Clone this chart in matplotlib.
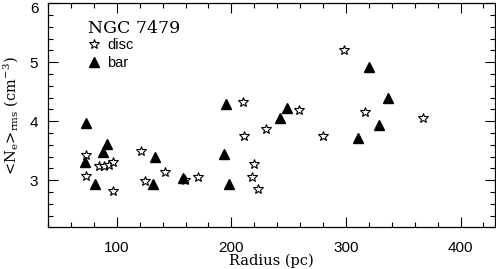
import matplotlib
matplotlib.use('Agg')
import matplotlib.pyplot as plt
import matplotlib.transforms as mtransforms
from matplotlib.ticker import MultipleLocator

# NGC 7479 rms electron density vs radius
disc_r = [72.9, 84.8, 89.1, 93.2, 97.0, 72.9, 97.0, 121.2, 142.4, 124.6,
          209.9, 230.2, 211.0, 219.8, 159.8, 171.2, 218.3, 223.5,
          298.0, 259.3, 316.6, 280.2, 367.5]
disc_ne = [3.42, 3.24, 3.24, 3.25, 3.30, 3.07, 2.82, 3.50, 3.14, 2.99,
           4.32, 3.87, 3.75, 3.27, 3.00, 3.05, 3.06, 2.85,
           5.21, 4.19, 4.16, 3.75, 4.06]

bar_r = [73.2, 91.2, 87.7, 72.3, 80.7, 133.4, 131.4, 195.3, 193.6, 157.5,
         198.2, 320.1, 248.8, 242.7, 336.4, 310.2, 329.1]
bar_ne = [3.97, 3.62, 3.47, 3.30, 2.94, 3.40, 2.93, 4.29, 3.45, 3.04,
          2.93, 4.92, 4.23, 4.06, 4.39, 3.72, 3.93]

plt.rcParams['mathtext.fontset'] = 'dejavuserif'

fig = plt.figure(figsize=(4.96, 2.69), dpi=100)
ax = fig.add_axes([0.0968, 0.155, 0.901, 0.833])

ax.plot(disc_r, disc_ne, linestyle='None', marker='*', ms=7.5,
        mfc='white', mec='black', mew=0.8, label='disc')
ax.plot(bar_r, bar_ne, linestyle='None', marker='^', ms=6.5,
        mfc='black', mec='black', label='bar')

ax.set_xlim(40, 430)
ax.set_ylim(2.2, 6)
ax.xaxis.set_major_locator(MultipleLocator(100))
ax.xaxis.set_minor_locator(MultipleLocator(20))
ax.yaxis.set_major_locator(MultipleLocator(1))
ax.yaxis.set_minor_locator(MultipleLocator(0.2))
ax.tick_params(which='both', direction='in', top=True, right=True, width=0.8)
ax.tick_params(which='major', length=7.5)
ax.tick_params(which='minor', length=3.8)
ax.tick_params(axis='x', pad=10)
ax.tick_params(axis='y', pad=7)
for sp in ax.spines.values():
    sp.set_linewidth(0.9)

fig.canvas.draw()
for lab in ax.get_xticklabels() + ax.get_yticklabels():
    lab.set_family('Liberation Sans')
    lab.set_fontsize(11)
# the top "6" sits a little lower so it stays inside the picture
shift = mtransforms.ScaledTranslation(0, -3 / 72, fig.dpi_scale_trans)
for tick in ax.yaxis.get_major_ticks():
    if abs(tick.get_loc() - 6) < 1e-6:
        tick.label1.set_transform(tick.label1.get_transform() + shift)

ax.set_xlabel('Radius (pc)', family='DejaVu Serif', fontsize=10.5, labelpad=-1)
ax.set_ylabel(r'<N$_{\rm e}$>$_{\rm rms}$ (cm$^{-3}$)', family='DejaVu Serif',
              fontsize=10.5, labelpad=6)

leg = ax.legend(loc='upper left', bbox_to_anchor=(0.09, 0.925), frameon=False,
                title='NGC 7479', alignment='left', borderpad=0, borderaxespad=0,
                handlelength=0.8, handletextpad=0.5, labelspacing=0.25,
                prop={'family': 'Liberation Sans', 'size': 10.5},
                title_fontproperties={'family': 'DejaVu Serif', 'size': 12.5})
leg._legend_box.sep = 1

fig.savefig('out.png', dpi=100)
